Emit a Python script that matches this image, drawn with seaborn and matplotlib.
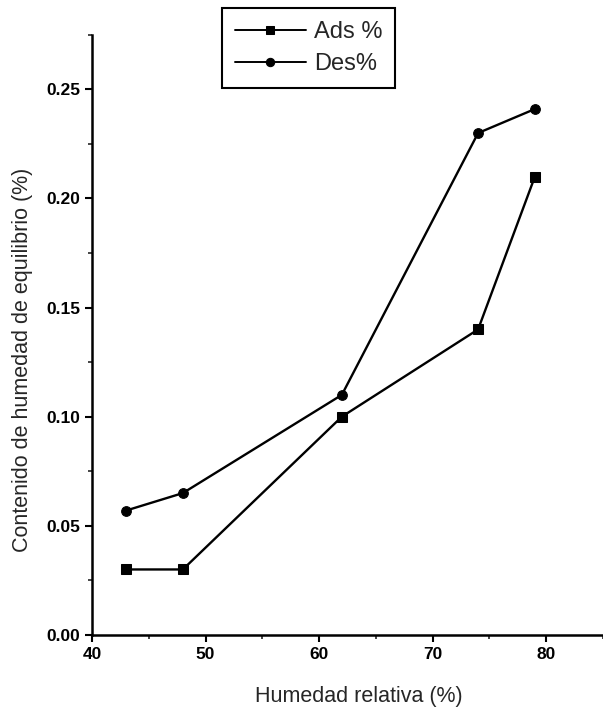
import numpy as np
import pandas as pd
import seaborn as sns
import matplotlib.pyplot as plt
from matplotlib.ticker import MultipleLocator

# data
humedad = [43, 48, 62, 74, 79]
ads = [0.030, 0.030, 0.100, 0.140, 0.210]
des = [0.057, 0.065, 0.110, 0.230, 0.241]

df = pd.DataFrame({
    'Humedad': humedad * 2,
    'Contenido': ads + des,
    'Serie': ['Ads %'] * len(ads) + ['Des%'] * len(des),
})

sns.set_style('ticks')
plt.rcParams['font.family'] = ['Liberation Sans', 'DejaVu Sans']

fig = plt.figure(figsize=(6.03, 7.11), dpi=100)
ax = fig.add_axes([0.1526, 0.107, 0.8474, 0.844])

sns.lineplot(data=df, x='Humedad', y='Contenido', style='Serie',
             markers={'Ads %': 's', 'Des%': 'o'}, dashes=False,
             color='black', linewidth=1.7, markersize=7,
             markeredgecolor='black', ax=ax)

ax.set_xlim(40, 85)
ax.set_ylim(0, 0.275)
ax.xaxis.set_major_locator(MultipleLocator(10))
ax.xaxis.set_minor_locator(MultipleLocator(5))
ax.yaxis.set_major_locator(MultipleLocator(0.05))
ax.yaxis.set_minor_locator(MultipleLocator(0.025))
ax.yaxis.set_major_formatter(plt.FormatStrFormatter('%.2f'))

for s in ['top', 'right']:
    ax.spines[s].set_visible(False)
for s in ['left', 'bottom']:
    ax.spines[s].set_linewidth(1.8)
    ax.spines[s].set_color('black')

ax.tick_params(which='major', length=5, width=1.5, direction='out',
               labelsize=12.5, colors='black')
ax.tick_params(which='minor', length=3, width=1.2, direction='out')
for lab in ax.get_xticklabels() + ax.get_yticklabels():
    lab.set_fontweight('bold')

ax.set_xlabel('Humedad relativa (%)', fontsize=15.5, labelpad=16)
ax.set_ylabel('Contenido de humedad de equilibrio (%)', fontsize=15.5, labelpad=10)
ax.xaxis.set_label_coords(0.522, -0.085)
ax.yaxis.set_label_coords(-0.115, 0.458)

leg = ax.legend(loc='upper center', bbox_to_anchor=(0.424, 1.045),
                fontsize=17, frameon=True, fancybox=False,
                handlelength=3.0, borderpad=0.55, labelspacing=0.45,
                handletextpad=0.35, borderaxespad=0)
leg.get_frame().set_edgecolor('black')
leg.get_frame().set_linewidth(1.5)
leg.get_frame().set_alpha(1)
leg.set_title(None)
for h in leg.get_lines():
    h.set_markersize(6)
    h.set_linewidth(1.4)

fig.savefig('out.png', dpi=100)
